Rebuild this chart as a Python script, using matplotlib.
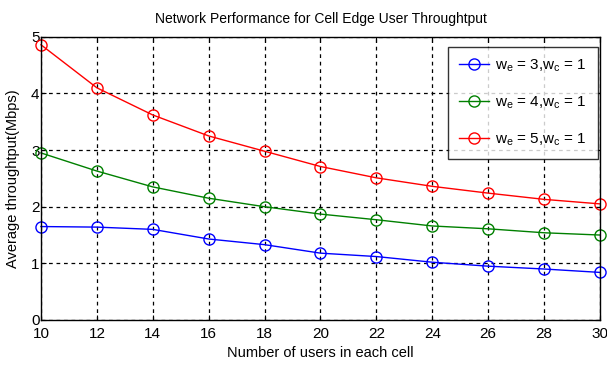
import matplotlib.pyplot as plt
from matplotlib import font_manager

users = [10, 12, 14, 16, 18, 20, 22, 24, 26, 28, 30]
we3 = [1.65, 1.64, 1.60, 1.43, 1.33, 1.18, 1.12, 1.02, 0.95, 0.90, 0.84]
we4 = [2.95, 2.63, 2.35, 2.15, 2.00, 1.87, 1.77, 1.66, 1.61, 1.54, 1.50]
we5 = [4.86, 4.10, 3.62, 3.25, 2.98, 2.71, 2.51, 2.36, 2.24, 2.13, 2.05]
labels = ['w$_e$ = 3,w$_c$ = 1', 'w$_e$ = 4,w$_c$ = 1', 'w$_e$ = 5,w$_c$ = 1']

names = {f.name for f in font_manager.fontManager.ttflist}
narrow = 'Liberation Sans Narrow' if 'Liberation Sans Narrow' in names else 'Liberation Sans'
plt.rcParams['font.family'] = [narrow, 'DejaVu Sans']
plt.rcParams['mathtext.default'] = 'regular'

fig = plt.figure(figsize=(6.07, 3.76), dpi=100)
ax = fig.add_axes([0.0675, 0.149, 0.921, 0.753])

for vals, col, lab in zip([we3, we4, we5], ['blue', 'green', 'red'], labels):
    ax.plot(users, vals, color=col, marker='o', mfc='none', mec=col,
            markersize=8, lw=1, label=lab, clip_on=False)

ax.set_xlim(10, 30)
ax.set_ylim(0, 5)
ax.set_xticks(range(10, 31, 2))
ax.set_yticks(range(0, 6))
ax.grid(True, color='black', linestyle=(0, (3, 3)), lw=0.9)
ax.tick_params(direction='in', top=True, right=True, labelsize=11)
ax.tick_params(axis='y', pad=1)
ax.tick_params(axis='x', pad=5)
for s in ax.spines.values():
    s.set_linewidth(1)

ax.set_title('Network Performance for Cell Edge User Throughtput', fontsize=10, pad=10)
ax.set_xlabel('Number of users in each cell', fontsize=10.5, labelpad=4)
ax.set_ylabel('Average throughtput(Mbps)', fontsize=10.5, family='Liberation Sans', labelpad=8)

leg = ax.legend(loc='upper right', bbox_to_anchor=(0.996, 0.965), fontsize=11,
                frameon=True, fancybox=False, edgecolor='black', borderpad=0.7,
                labelspacing=1.35, handlelength=2.0, handletextpad=0.4, borderaxespad=0)
leg.get_frame().set_linewidth(1)

fig.savefig('out.png', dpi=100)
